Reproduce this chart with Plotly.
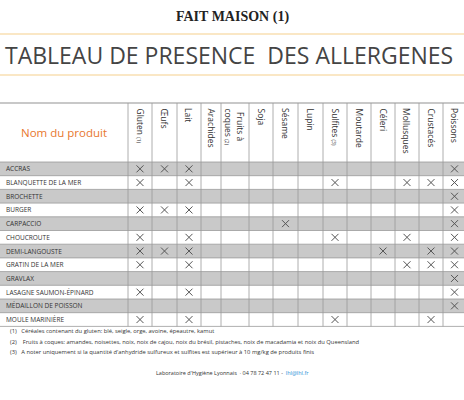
import plotly.graph_objects as go

products = ["ACCRAS", "BLANQUETTE DE LA MER", "BROCHETTE", "BURGER", "CARPACCIO", "CHOUCROUTE",
            "DEMI-LANGOUSTE", "GRATIN DE LA MER", "GRAVLAX", "LASAGNE SAUMON-ÉPINARD",
            "MÉDAILLON DE POISSON", "MOULE MARINIÈRE"]
allergens = ["Gluten <span style='font-size:5px'>(1)</span>", "Œufs", "Lait", "Arachides",
             "Fruits à<br>coques <span style='font-size:5px'>(2)</span>", "Soja", "Sésame", "Lupin",
             "Sulfites <span style='font-size:5px'>(3)</span>", "Moutarde", "Céleri", "Mollusques", "Crustacés", "Poissons"]
presence = {
    "ACCRAS": [0, 1, 2, 13],
    "BLANQUETTE DE LA MER": [0, 2, 8, 11, 12, 13],
    "BROCHETTE": [13],
    "BURGER": [0, 1, 2, 13],
    "CARPACCIO": [6, 13],
    "CHOUCROUTE": [0, 2, 8, 11, 13],
    "DEMI-LANGOUSTE": [0, 1, 2, 10, 12, 13],
    "GRATIN DE LA MER": [0, 2, 11, 12, 13],
    "GRAVLAX": [13],
    "LASAGNE SAUMON-ÉPINARD": [0, 2, 13],
    "MÉDAILLON DE POISSON": [13],
    "MOULE MARINIÈRE": [0, 2, 8, 12],
}
notes = ["(1)   Céréales contenant du gluten: blé, seigle, orge, avoine, épeautre, kamut",
         "(2)    Fruits à coques: amandes, noisettes, noix, noix de cajou, noix du brésil, pistaches, noix de macadamia et noix du Queensland",
         "(3)   A noter uniquement si la quantité d'anhydride sulfureux et sulfites est supérieur à 10 mg/kg de produits finis"]

bounds = [128, 152, 177, 201, 221, 249, 273, 298, 323, 347, 371, 395, 419, 443, 466]
head_top, row_top, rh = 103, 162, 13.7
centers = [(bounds[i] + bounds[i + 1]) / 2 for i in range(len(allergens))]

shapes, annos = [], []
GRID = "#9a9a9a"
for i, p in enumerate(products):
    y0 = row_top + i * rh
    if i % 2 == 0:
        shapes.append(dict(type="rect", x0=0, x1=466, y0=y0, y1=y0 + rh, fillcolor="#c9c9c9", line_width=0, layer="below"))
    shapes.append(dict(type="line", x0=0, x1=466, y0=y0, y1=y0, line=dict(color=GRID, width=0.8)))
    annos.append(dict(x=4, y=y0 + rh / 2, text=p, showarrow=False, xanchor="left", yanchor="middle",
                      font=dict(size=6.5, color="#333", family="Open Sans")))
end_y = row_top + len(products) * rh
shapes.append(dict(type="line", x0=0, x1=466, y0=end_y, y1=end_y, line=dict(color=GRID, width=0.8)))
shapes.append(dict(type="line", x0=0, x1=466, y0=head_top, y1=head_top, line=dict(color="#c8c8c8", width=2)))
for b in bounds[:-1]:
    shapes.append(dict(type="line", x0=b, x1=b, y0=head_top, y1=end_y, line=dict(color=GRID, width=0.8)))
for yl in (34, 75):
    shapes.append(dict(type="line", x0=0, x1=466, y0=yl, y1=yl, line=dict(color="#f5cf8c", width=1.2)))

for c, a in zip(centers, allergens):
    annos.append(dict(x=c, y=head_top + 3, text=a, textangle=90, showarrow=False, xanchor="center", yanchor="top",
                      font=dict(size=8.5, color="#333", family="Open Sans")))
annos.append(dict(x=64, y=132, text="Nom du produit", showarrow=False, font=dict(size=11.5, color="#e8772e", family="Open Sans")))
annos.append(dict(x=232, y=17, text="<b>FAIT MAISON (1)</b>", showarrow=False,
                  font=dict(size=14, color="#222", family="Liberation Sans Narrow")))
annos.append(dict(x=229, y=55, text="TABLEAU DE PRESENCE  DES ALLERGENES", showarrow=False,
                  font=dict(size=23, color="#444", family="Open Sans")))
for k, n in enumerate(notes):
    annos.append(dict(x=8, y=331 + k * 10.5, text=n, showarrow=False, xanchor="left",
                      font=dict(size=5.8, color="#333", family="Open Sans")))
annos.append(dict(x=232, y=373, text="Laboratoire d'Hygiène Lyonnais  · 04 78 72 47 11 -  <span style='color:#2a8fd6'>lhl@lhl.fr</span>",
                  showarrow=False, font=dict(size=5.5, color="#333", family="Open Sans")))

xs, ys = [], []
for i, p in enumerate(products):
    for j in presence[p]:
        xs.append(centers[j])
        ys.append(row_top + i * rh + rh / 2)

fig = go.Figure(go.Scatter(x=xs, y=ys, mode="markers",
                           marker=dict(symbol="x-thin-open", size=7, color="#555", line=dict(color="#555", width=1))))
fig.update_layout(width=464, height=400, margin=dict(l=0, r=0, t=0, b=0), showlegend=False,
                  plot_bgcolor="white", paper_bgcolor="white", shapes=shapes, annotations=annos,
                  xaxis=dict(range=[0, 464], visible=False, fixedrange=True),
                  yaxis=dict(range=[400, 0], visible=False, fixedrange=True))
fig.write_html("out.html", config={"displayModeBar": False},
               post_script="document.body.style.margin='0';document.body.style.overflow='hidden';")
